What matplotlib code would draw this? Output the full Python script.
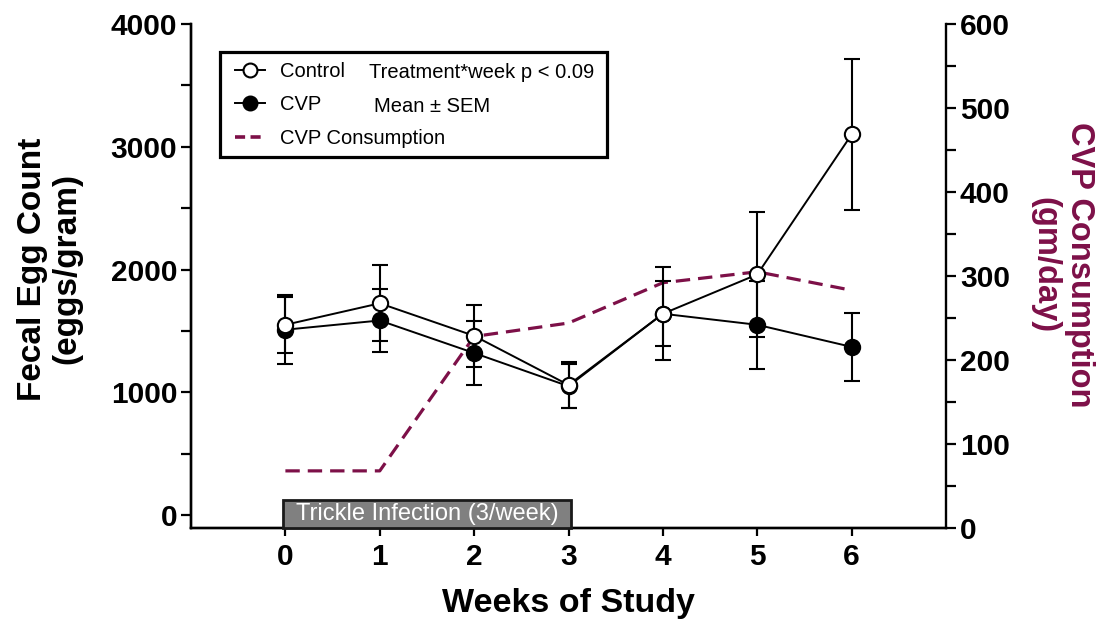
import numpy as np
import matplotlib.pyplot as plt
from matplotlib.lines import Line2D
from matplotlib.patches import Rectangle

plt.rcParams['font.family'] = ['Liberation Sans', 'DejaVu Sans']

weeks = [0, 1, 2, 3, 4, 5, 6]
control = [1550, 1725, 1460, 1060, 1640, 1960, 3100]
control_sem = [230, 310, 255, 190, 380, 510, 615]
cvp = [1510, 1585, 1320, 1050, 1640, 1550, 1370]
cvp_sem = [280, 260, 260, 180, 265, 360, 275]
consumption = [68, 68, 228, 244, 292, 305, 283]

maroon = '#7d1048'

fig = plt.figure(figsize=(11.08, 6.23), dpi=100)
ax = fig.add_axes([0.1724, 0.1525, 0.6814, 0.809])
ax2 = ax.twinx()

# egg counts
ax.errorbar(weeks, cvp, cvp_sem, fmt='-o', color='k', ms=11, mfc='k',
            mec='k', mew=1.5, lw=1.4, elinewidth=1.5, capsize=6,
            capthick=1.5, zorder=3)
ax.errorbar(weeks, control, control_sem, fmt='-o', color='k', ms=11,
            mfc='white', mec='k', mew=1.5, lw=1.4, elinewidth=1.5,
            capsize=6, capthick=1.5, zorder=4)

# consumption
ax2.plot(weeks, consumption, color=maroon, lw=2.3, ls=(0, (4.5, 2.5)),
         zorder=5)

ax.set_xlim(-1, 7)
ax.set_ylim(-105, 4000)
ax2.set_ylim(0, 600)

ax.set_xticks(weeks)
ax.set_yticks(np.arange(0, 4001, 1000))
ax.yaxis.set_minor_locator(plt.MultipleLocator(500))
ax2.set_yticks(np.arange(0, 601, 100))
ax2.yaxis.set_minor_locator(plt.MultipleLocator(50))

for a in (ax, ax2):
    for s in a.spines.values():
        s.set_linewidth(1.7)
    a.spines['top'].set_visible(False)
    a.tick_params(which='both', direction='out', width=1.6, length=7,
                  labelsize=21.5)
    for lab in a.get_xticklabels() + a.get_yticklabels():
        lab.set_fontweight('bold')
ax.spines['right'].set_visible(False)
ax.tick_params(axis='x', length=6, pad=5)
ax.tick_params(axis='y', pad=3)
ax2.tick_params(axis='y', pad=3)

ax.set_xlabel('Weeks of Study', fontsize=24.5, fontweight='bold', labelpad=12)
fig.text(50 / 1108, 1 - 269 / 623, 'Fecal Egg Count\n(eggs/gram)',
         fontsize=24, fontweight='bold', rotation=90, ha='center',
         va='center', multialignment='center', linespacing=1.15)
fig.text(1062 / 1108, 1 - 265 / 623, 'CVP Consumption\n(gm/day)',
         fontsize=23.5, fontweight='bold', color=maroon, rotation=270,
         ha='center', va='center', multialignment='center', linespacing=1.15)

# trickle infection bar
ax.add_patch(Rectangle((-0.03, 0), 3.06, 0.056, transform=ax.get_xaxis_transform(),
                       facecolor='#808080', edgecolor='#1a1a1a', lw=2,
                       zorder=6, clip_on=False))
ax.text(1.5, 0.028, 'Trickle Infection (3/week)', transform=ax.get_xaxis_transform(),
        ha='center', va='center', color='white', fontsize=17, zorder=7)

# legend
ax.add_patch(Rectangle((0.0384, 0.736), 0.5126, 0.208, transform=ax.transAxes,
                       facecolor='white', edgecolor='k', lw=2.3, zorder=8))
handles = [Line2D([], [], color='k', marker='o', mfc='white', ms=10, mew=1.5, lw=1.4),
           Line2D([], [], color='k', marker='o', mfc='k', ms=10, mew=1.5, lw=1.4),
           Line2D([], [], color=maroon, lw=2.6, ls=(0, (2.8, 1.5)))]
leg = ax.legend(handles, ['Control', 'CVP', 'CVP Consumption'],
                loc='upper left', bbox_to_anchor=(0.058, 0.925),
                frameon=False, fontsize=14.5, handlelength=1.5,
                handletextpad=0.75, labelspacing=0.72, borderpad=0,
                borderaxespad=0)
leg.set_zorder(9)
ax.text(0.236, 0.903, 'Treatment*week p < 0.09', transform=ax.transAxes,
        fontsize=14.5, va='center', zorder=9)
ax.text(0.243, 0.837, 'Mean \u00b1 SEM', transform=ax.transAxes,
        fontsize=14.5, va='center', zorder=9)

ax.set_zorder(ax2.get_zorder() + 1)
ax.patch.set_visible(False)

fig.savefig('out.png', dpi=100)
